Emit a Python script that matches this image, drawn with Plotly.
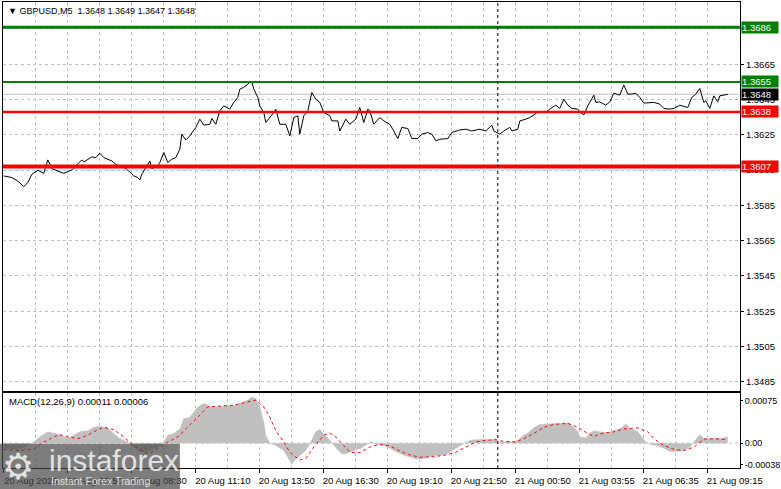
import plotly.graph_objects as go

# chart header texts
symbol_title = "▼ GBPUSD,M5  1.3648 1.3649 1.3647 1.3648"
macd_title = "MACD(12,26,9) 0.00011 0.00006"

# price line: bar index -> close
price_bars = [0, 4, 7, 10, 12, 14, 17, 20, 22, 24, 27, 30, 34, 37, 39, 40, 42, 44, 46, 48,
              50, 52, 54, 56, 58, 61, 63, 65, 67, 68, 69, 70, 73, 74, 77, 78, 80, 82, 84, 86,
              88, 89, 91, 93, 96, 98, 100, 103, 104, 106, 108, 110, 113, 115, 117, 118, 120, 123,
              124, 125, 127, 128, 130, 131, 134, 135, 136, 138, 141, 143, 145, 147, 148, 150,
              152, 154, 156, 158, 160, 163, 164, 167, 168, 171, 173, 176, 178, 180, 182, 183,
              185, 188, 190, 193, 195, 197, 199, 202, 204, 207, 209, 212, 214, 216, 218, 222,
              224, 228, 231, 234, 238, 241, 244, 245,
              248, 250, 253, 254, 257, 258, 261, 263, 265, 267, 269, 271, 273, 276, 278, 280,
              282, 284, 287, 288, 290, 292, 295, 296, 298, 301, 303, 305, 308, 310, 312, 314,
              316, 318, 320, 323, 325, 328, 330, 333, 335, 338, 340, 342, 344, 346, 348, 350,
              351, 353, 355, 357, 358, 360, 362]
price_close = [1.36017, 1.36008, 1.35988, 1.35957, 1.35979, 1.36026, 1.36049, 1.36032, 1.36108, 1.36059,
               1.36045, 1.36032, 1.36051, 1.36089, 1.36108, 1.36096, 1.36112, 1.36125, 1.36121, 1.36146,
               1.36121, 1.36112, 1.36102, 1.36083, 1.36074, 1.36059, 1.36039, 1.36017, 1.36008, 1.35994,
               1.36026, 1.36045, 1.36102, 1.36059, 1.36074, 1.36093, 1.36150, 1.36093, 1.36112, 1.36121,
               1.36168, 1.36254, 1.36221, 1.36244, 1.36292, 1.36339, 1.36305, 1.36310, 1.36343, 1.36310,
               1.36386, 1.36414, 1.36396, 1.36434, 1.36462, 1.36509, 1.36519, 1.36547,
               1.36551, 1.36509, 1.36462, 1.36414, 1.36377, 1.36320, 1.36358, 1.36377, 1.36396, 1.36310,
               1.36310, 1.36244, 1.36348, 1.36358, 1.36254, 1.36358, 1.36386, 1.36490, 1.36452, 1.36434,
               1.36377, 1.36358, 1.36329, 1.36329, 1.36272, 1.36339, 1.36310, 1.36339, 1.36405, 1.36320,
               1.36396, 1.36386, 1.36310, 1.36348, 1.36329, 1.36310, 1.36272, 1.36229, 1.36292, 1.36286,
               1.36229, 1.36229, 1.36254, 1.36263, 1.36254, 1.36216, 1.36225, 1.36229, 1.36263, 1.36278,
               1.36282, 1.36272, 1.36282, 1.36272, 1.36305, 1.36272,
               1.36254, 1.36272, 1.36292, 1.36272, 1.36282, 1.36329, 1.36339, 1.36348, 1.36362, 1.36380,
               1.36377, 1.36377, 1.36396, 1.36418, 1.36400, 1.36452, 1.36418, 1.36400, 1.36396, 1.36380,
               1.36363, 1.36414, 1.36475, 1.36434, 1.36437, 1.36418, 1.36437, 1.36486, 1.36475, 1.36532,
               1.36481, 1.36481, 1.36486, 1.36462, 1.36430, 1.36434, 1.36434, 1.36424, 1.36400, 1.36396,
               1.36400, 1.36418, 1.36411, 1.36405, 1.36462, 1.36481, 1.36513, 1.36434, 1.36443, 1.36400,
               1.36471, 1.36437, 1.36471, 1.36475, 1.36480]

# MACD main (histogram)
macd_bars = [0, 8, 15, 18, 22, 25, 28, 32, 35, 38, 42, 45, 48, 52, 55, 58, 62, 64, 67, 70,
             73, 77, 80, 82, 85, 88, 90, 93, 97, 100, 102, 105, 110, 115, 118, 122, 124, 126, 128, 130,
             131, 133, 136, 140, 143, 144, 146, 149, 151, 153, 155, 156, 158, 160, 163, 165, 169, 171, 175, 178,
             181, 184, 186, 190, 193, 196, 200, 203, 206, 210, 213, 216, 220, 223, 226, 230, 233, 236, 240, 243,
             246, 247, 250, 254, 257, 260, 262, 265, 268, 272, 275, 278, 282, 284, 287, 288, 291, 293, 295, 298,
             302, 305, 308, 311, 313, 317, 319, 321, 323, 327, 330, 333, 337, 340, 343, 346, 348, 350, 353, 355,
             358, 362]
macd_hist = [-0.00010, -0.00011, 0.00002, 0.00011, 0.00020, 0.00017, 0.00015, 0.00008, 0.00014, 0.00020,
             0.00022, 0.00028, 0.00030, 0.00027, 0.00017, 0.00008, 0.00002, -0.00004, -0.00013, -0.00016,
             -0.00013, -0.00007, 0.00002, 0.00014, 0.00017, 0.00025, 0.00043, 0.00046, 0.00064, 0.00070,
             0.00067, 0.00064, 0.00066, 0.00067, 0.00070, 0.00076, 0.00082, 0.00079, 0.00064, 0.00037,
             0.00014, 0.00000, -0.00004, -0.00013, -0.00031, -0.00037, -0.00028, -0.00019, -0.00013, -0.00001,
             0.00014, 0.00020, 0.00024, 0.00017, 0.00005, -0.00004, -0.00019, -0.00019, -0.00013, -0.00010,
             -0.00004, 0.00003, -0.00002, -0.00004, -0.00009, -0.00015, -0.00021, -0.00025, -0.00028, -0.00027,
             -0.00025, -0.00022, -0.00021, -0.00016, -0.00009, -0.00001, 0.00005, 0.00006, 0.00007, 0.00006,
             0.00008, 0.00002, 0.00002, 0.00002, 0.00005, 0.00014, 0.00018, 0.00027, 0.00033, 0.00034,
             0.00034, 0.00036, 0.00036, 0.00031, 0.00021, 0.00011, 0.00009, 0.00017, 0.00022, 0.00020,
             0.00018, 0.00022, 0.00025, 0.00034, 0.00027, 0.00020, 0.00011, 0.00002, -0.00002, -0.00005,
             -0.00009, -0.00015, -0.00015, -0.00013, -0.00007, 0.00005, 0.00015, 0.00008, 0.00008, 0.00009,
             0.00008, 0.00011]

# MACD signal line
signal_bars = [0, 7, 15, 20, 25, 28, 32, 37, 42, 47, 50, 55, 60, 65, 70, 73, 78, 82, 87, 92,
               97, 102, 108, 115, 122, 126, 130, 133, 136, 140, 143, 148, 151, 155, 160, 163, 166, 170, 173, 178,
               183, 188, 193, 198, 203, 208, 215, 221, 226, 231, 236, 241, 246, 250, 256, 260, 265, 270, 275, 282,
               287, 292, 295, 300, 305, 310, 317, 322, 325, 330, 335, 340, 345, 350, 355, 362]
signal_vals = [-0.00011, -0.00013, -0.00010, 0.00002, 0.00011, 0.00015, 0.00011, 0.00008, 0.00014, 0.00024,
               0.00028, 0.00024, 0.00011, -0.00005, -0.00017, -0.00018, -0.00007, 0.00002, 0.00011, 0.00028,
               0.00046, 0.00064, 0.00066, 0.00067, 0.00073, 0.00076, 0.00064, 0.00046, 0.00022, 0.00002,
               -0.00016, -0.00030, -0.00027, -0.00007, 0.00014, 0.00018, 0.00011, -0.00004, -0.00016, -0.00017,
               -0.00007, -0.00002, -0.00005, -0.00014, -0.00021, -0.00025, -0.00024, -0.00021, -0.00016, -0.00007,
               0.00002, 0.00005, 0.00006, 0.00003, 0.00002, 0.00008, 0.00017, 0.00028, 0.00033, 0.00035,
               0.00028, 0.00017, 0.00012, 0.00018, 0.00020, 0.00025, 0.00027, 0.00020, 0.00008, -0.00004,
               -0.00011, -0.00013, -0.00007, 0.00007, 0.00008, 0.00006]

# horizontal levels
level_values = [1.3686, 1.3655, 1.3638, 1.3607]
level_colors = ["#008000", "#008000", "#ff0000", "#ff0000"]
level_widths = [3, 2, 2.5, 4]
last_price = 1.3648

price_ticks = [1.3485, 1.3505, 1.3525, 1.3545, 1.3565, 1.3585, 1.3605, 1.3625, 1.3645, 1.3665, 1.3685]
macd_ticks = [-0.00038, 0.0, 0.00075]
macd_tick_text = ["-0.00038", "0.00", "0.00075"]

time_bars = [0, 32, 64, 96, 128, 160, 192, 224, 256, 288, 320, 352]
time_labels = ["20 Aug 2025", "20 Aug 05:50", "20 Aug 08:30", "20 Aug 11:10", "20 Aug 13:50",
               "20 Aug 16:30", "20 Aug 19:10", "20 Aug 21:50", "21 Aug 00:50", "21 Aug 03:55",
               "21 Aug 06:35", "21 Aug 09:15"]
separator_bar = 247

FONT = "Liberation Sans"
GRID = "#c0c0c0"

fig = go.Figure()

fig.add_trace(go.Scatter(x=price_bars, y=price_close, mode="lines",
                         line=dict(color="black", width=1), xaxis="x", yaxis="y"))
fig.add_trace(go.Scatter(x=macd_bars, y=macd_hist, mode="lines", fill="tozeroy",
                         fillcolor="#c0c0c0", line=dict(color="#c0c0c0", width=0.5),
                         xaxis="x2", yaxis="y2"))
fig.add_trace(go.Scatter(x=signal_bars, y=signal_vals, mode="lines",
                         line=dict(color="#ff0000", width=1, dash="3px,3px"),
                         xaxis="x2", yaxis="y2"))

shapes = []
# current price line (drawn under levels)
shapes.append(dict(type="line", xref="paper", x0=0, x1=1, yref="y", y0=last_price, y1=last_price,
                   line=dict(color="#c0c0c0", width=1), layer="below"))
for v, c, w in zip(level_values, level_colors, level_widths):
    shapes.append(dict(type="line", xref="paper", x0=0, x1=1, yref="y", y0=v, y1=v,
                       line=dict(color=c, width=w)))
# MACD zero level
shapes.append(dict(type="line", xref="paper", x0=0, x1=1, yref="y2", y0=0, y1=0,
                   line=dict(color=GRID, width=1, dash="3px,3px"), layer="below"))
# period separator across both panes
shapes.append(dict(type="line", xref="x", x0=separator_bar, x1=separator_bar, yref="paper", y0=0, y1=1,
                   line=dict(color="black", width=1, dash="3px,3px")))
# watermark box
shapes.append(dict(type="rect", xref="paper", x0=-0.005, x1=0.24, yref="paper", y0=-0.05, y1=0.052,
                   fillcolor="rgba(70,70,70,0.7)", line=dict(width=0), layer="above"))

annotations = []
annotations.append(dict(text=symbol_title, xref="paper", x=0, xanchor="left", xshift=3,
                        yref="paper", y=1, yanchor="top", yshift=-2, showarrow=False,
                        font=dict(family=FONT, size=9, color="black")))
annotations.append(dict(text=macd_title, xref="paper", x=0, xanchor="left", xshift=4,
                        yref="y2 domain", y=1, yanchor="top", yshift=-1, showarrow=False,
                        font=dict(family=FONT, size=9.5, color="black")))
for v, c in zip(level_values + [last_price], level_colors + ["black"]):
    annotations.append(dict(text=f"{v:.4f}", xref="paper", x=1, xanchor="left", xshift=1,
                            yref="y", y=v, yanchor="middle", showarrow=False,
                            bgcolor=c, width=36, height=11, borderpad=0, align="left",
                            font=dict(family=FONT, size=9.5, color="white")))
# watermark texts
annotations.append(dict(text="⚙", xref="paper", x=-0.004, xanchor="left",
                        yref="paper", y=-0.046, yanchor="bottom", showarrow=False,
                        font=dict(family="DejaVu Sans", size=36, color="rgba(255,255,255,0.8)")))
annotations.append(dict(text="instaforex", xref="paper", x=0.06, xanchor="left",
                        yref="paper", y=0.056, yanchor="top", showarrow=False,
                        font=dict(family=FONT, size=30, color="rgba(255,255,255,0.8)")))
annotations.append(dict(text="Instant Forex Trading", xref="paper", x=0.062, xanchor="left",
                        yref="paper", y=-0.046, yanchor="bottom", showarrow=False,
                        font=dict(family=FONT, size=10.5, color="rgba(255,255,255,0.8)")))

xcommon = dict(range=[-0.4, 368.1], showline=True, linecolor="black", linewidth=1, mirror=True,
               zeroline=False, showgrid=True, gridcolor=GRID, griddash="3px,3px", gridwidth=1,
               automargin=False)

fig.update_layout(
    width=781, height=489,
    margin=dict(l=3, r=41, t=2, b=21),
    paper_bgcolor="white", plot_bgcolor="white",
    showlegend=False,
    font=dict(family=FONT, size=9.5, color="black"),
    xaxis=dict(**xcommon, domain=[0, 1], anchor="y", tickmode="linear", tick0=0, dtick=16,
               ticks="", showticklabels=False),
    xaxis2=dict(**xcommon, domain=[0, 1], anchor="y2", matches="x",
                tickmode="array", tickvals=time_bars, ticktext=time_labels,
                ticks="outside", ticklen=4, tickcolor="black", ticklabelshift=27,
                minor=dict(tickmode="linear", tick0=0, dtick=16, showgrid=True,
                           gridcolor=GRID, griddash="3px,3px", ticks=""),
                tickfont=dict(family=FONT, size=9.5)),
    yaxis=dict(domain=[0.1656, 1], range=[1.34799, 1.37003], side="right", anchor="x",
               tickmode="array", tickvals=price_ticks, ticktext=[f"{t:.4f}" for t in price_ticks],
               showgrid=True, gridcolor=GRID, griddash="3px,3px", zeroline=False,
               showline=True, linecolor="black", mirror=True, automargin=False,
               ticks="outside", ticklen=3, tickcolor="black", tickfont=dict(family=FONT, size=9.5)),
    yaxis2=dict(domain=[0, 0.1613], range=[-0.00044, 0.00089], side="right", anchor="x2",
                tickmode="array", tickvals=macd_ticks, ticktext=macd_tick_text,
                showgrid=False, zeroline=False, showline=True, linecolor="black", mirror=True,
                automargin=False,
                ticks="outside", ticklen=2, tickcolor="black", tickfont=dict(family=FONT, size=9)),
    shapes=shapes,
    annotations=annotations,
)

# page body has a default margin; drop it so the figure sits at the window corner
fig.write_html("out.html", config={"displayModeBar": False},
               post_script="document.body.style.margin='0';")
